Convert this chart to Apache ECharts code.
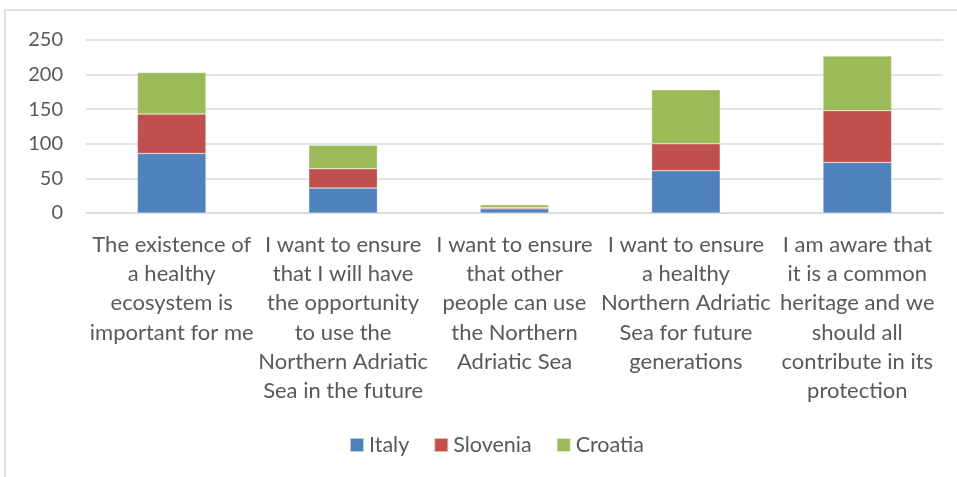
<!DOCTYPE html>
<html>
<head>
<meta charset="utf-8">
<script src="https://cdn.jsdelivr.net/npm/echarts@6/dist/echarts.min.js"></script>
<style>
  html, body { margin: 0; padding: 0; background: #fff; }
  #chart { width: 957px; height: 477px; }
</style>
</head>
<body>
<div id="chart"></div>
<script>
// Motivations for protecting the Northern Adriatic Sea, by country
const categories = [
  "The existence of\na healthy\necosystem is\nimportant for me",
  "I want to ensure\nthat I will have\nthe opportunity\nto use the\nNorthern Adriatic\nSea in the future",
  "I want to ensure\nthat other\npeople can use\nthe Northern\nAdriatic Sea",
  "I want to ensure\na healthy\nNorthern Adriatic\nSea for future\ngenerations",
  "I am aware that\nit is a common\nheritage and we\nshould all\ncontribute in its\nprotection"
];
const italy    = [86, 36, 6, 61, 73];
const slovenia = [57, 28, 2, 39, 75];
const croatia  = [60, 34, 4, 78, 79];
const yTicks   = [0, 50, 100, 150, 200, 250];

const FONT = "Lato, 'Open Sans', sans-serif";
const TEXT = "#595959";

const chart = echarts.init(document.getElementById('chart'));

function barSeries(name, data, color) {
  return {
    name, type: 'bar', stack: 'total', data,
    barWidth: '40%',
    itemStyle: { color, borderColor: 'rgba(255,255,255,0.6)', borderWidth: 0.5 }
  };
}

chart.setOption({
  animation: false,
  backgroundColor: '#fff',
  textStyle: { fontFamily: FONT },
  graphic: [{
    type: 'polyline',
    shape: { points: [[5, 477], [5, 10], [957, 10]] },
    style: { stroke: '#d9d9d9', lineWidth: 1.5, fill: null }
  }],
  grid: { left: 86, right: 14, top: 40, bottom: 264 },
  legend: {
    top: 434, left: 349, padding: 0,
    icon: 'rect', itemWidth: 14, itemHeight: 14, itemGap: 24, itemTextGap: 6,
    textStyle: { fontSize: 21.5, color: TEXT, fontFamily: FONT }
  },
  xAxis: {
    type: 'category', data: categories,
    axisLine: { lineStyle: { color: '#d9d9d9', width: 1.5 } },
    axisTick: { show: false },
    axisLabel: {
      interval: 0, margin: 17, fontSize: 22, lineHeight: 29.3,
      color: TEXT, fontFamily: FONT
    }
  },
  yAxis: {
    type: 'value', min: yTicks[0], max: yTicks[yTicks.length - 1], interval: 50,
    axisLine: { show: false }, axisTick: { show: false },
    splitLine: { lineStyle: { color: '#d9d9d9', width: 1.5 } },
    axisLabel: { fontSize: 20, color: TEXT, margin: 23, fontFamily: FONT }
  },
  series: [
    barSeries('Italy', italy, '#4f81bd'),
    barSeries('Slovenia', slovenia, '#c0504d'),
    barSeries('Croatia', croatia, '#9bbb59')
  ]
});
</script>
</body>
</html>
